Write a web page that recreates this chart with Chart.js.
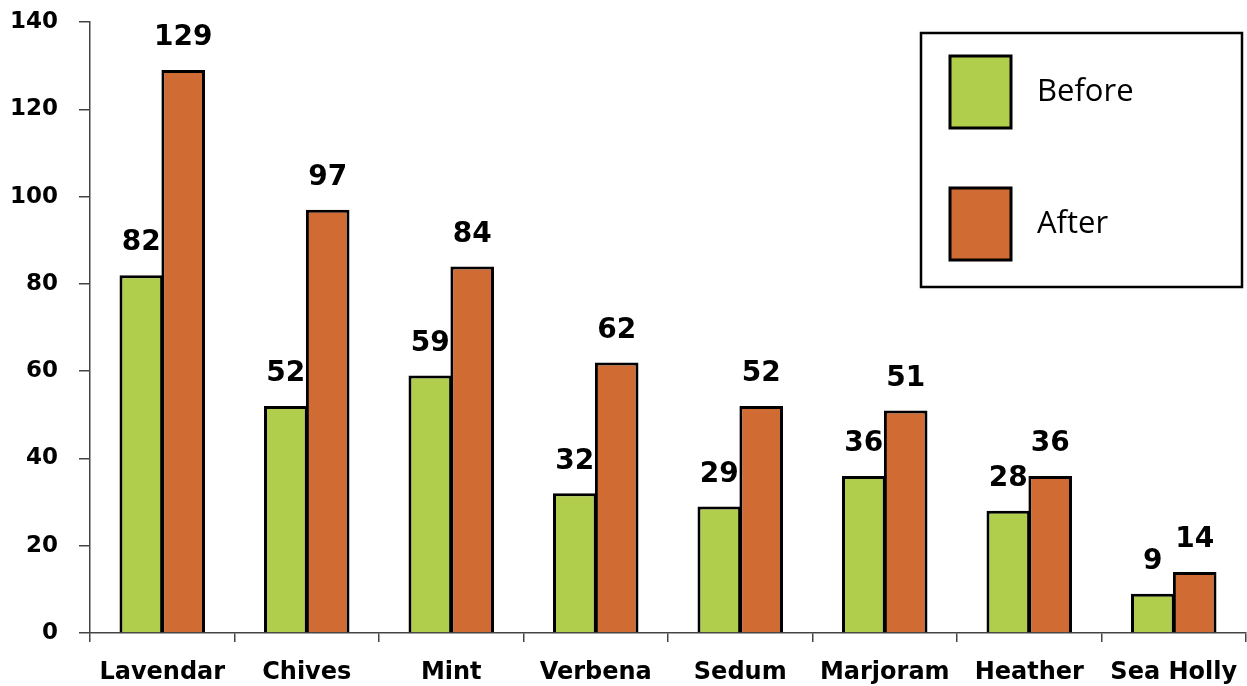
<!DOCTYPE html>
<html>
<head>
<meta charset="utf-8">
<script src="https://cdn.jsdelivr.net/npm/chart.js@4"></script>
<style>
  html, body { margin: 0; padding: 0; background: #fff; }
  #wrap { width: 1247px; height: 686px; }
</style>
</head>
<body>
<div id="wrap"><canvas id="chart" width="1247" height="686"></canvas></div>
<script>
const categories = ['Lavendar', 'Chives', 'Mint', 'Verbena', 'Sedum', 'Marjoram', 'Heather', 'Sea Holly'];
const beforeValues = [82, 52, 59, 32, 29, 36, 28, 9];
const afterValues = [129, 97, 84, 62, 52, 51, 36, 14];
const yTicks = [0, 20, 40, 60, 80, 100, 120, 140];

const green = '#b0cd4c';
const orange = '#d06b34';

// numbers above each bar
const valueLabels = {
  id: 'valueLabels',
  afterDatasetsDraw(chart) {
    const ctx = chart.ctx;
    ctx.save();
    ctx.font = 'bold 28px "DejaVu Sans"';
    ctx.fillStyle = '#000';
    ctx.textAlign = 'center';
    ctx.textBaseline = 'bottom';
    chart.data.datasets.forEach((ds, i) => {
      chart.getDatasetMeta(i).data.forEach((bar, j) => {
        ctx.fillText(ds.data[j], bar.x, bar.y - 18);
      });
    });
    ctx.restore();
  }
};

// boxed legend in the top right corner
const boxLegend = {
  id: 'boxLegend',
  afterDraw(chart) {
    const ctx = chart.ctx;
    ctx.save();
    ctx.lineWidth = 2.5;
    ctx.strokeStyle = '#000';
    ctx.strokeRect(921, 33, 321, 254);
    ctx.font = '31px "Open Sans"';
    ctx.textBaseline = 'middle';
    chart.data.datasets.forEach((ds, i) => {
      const y = 56 + i * 132;
      ctx.fillStyle = ds.backgroundColor;
      ctx.fillRect(950, y, 61, 72);
      ctx.lineWidth = 3;
      ctx.strokeRect(950, y, 61, 72);
      ctx.fillStyle = '#000';
      ctx.fillText(ds.label, 1037, y + 36);
    });
    ctx.restore();
  }
};

new Chart(document.getElementById('chart'), {
  type: 'bar',
  data: {
    labels: categories,
    datasets: [
      { label: 'Before', data: beforeValues, backgroundColor: green, borderColor: '#000', borderWidth: 3 },
      { label: 'After', data: afterValues, backgroundColor: orange, borderColor: '#000', borderWidth: 3 }
    ]
  },
  options: {
    responsive: false,
    animation: false,
    layout: { padding: { top: 22, right: 1, left: 0, bottom: 0 } },
    datasets: { bar: { categoryPercentage: 0.58, barPercentage: 1.04 } },
    plugins: { legend: { display: false }, tooltip: { enabled: false } },
    scales: {
      x: {
        grid: { offset: true, drawOnChartArea: false, drawTicks: true, tickLength: 9, color: '#444', lineWidth: 1.5 },
        border: { display: true, color: '#444', width: 1.5 },
        ticks: { color: '#000', font: { family: 'DejaVu Sans', weight: 'bold', size: 24 }, padding: 16 },
        afterFit(scale) {
          scale.height = 53;
          scale.paddingLeft = 0;
          scale.paddingRight = 0;
        }
      },
      y: {
        min: 0,
        max: 140,
        afterBuildTicks(scale) { scale.ticks = yTicks.map(v => ({ value: v })); },
        grid: { drawOnChartArea: false, drawTicks: true, tickLength: 11, color: '#444', lineWidth: 1.5 },
        border: { display: true, color: '#444', width: 1.5 },
        ticks: { color: '#000', font: { family: 'DejaVu Sans', weight: 'bold', size: 23 }, padding: 21 },
        afterFit(scale) {
          scale.width = 90;
          scale.paddingTop = 0;
          scale.paddingBottom = 0;
        }
      }
    }
  },
  plugins: [valueLabels, boxLegend]
});
</script>
</body>
</html>
